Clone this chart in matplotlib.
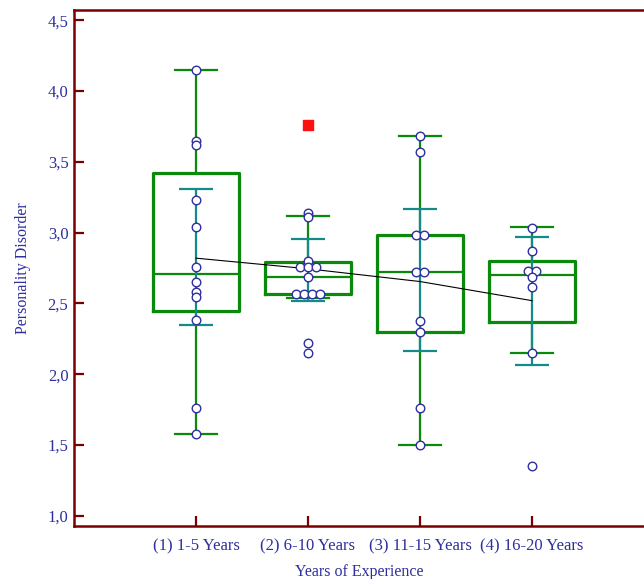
import matplotlib.pyplot as plt
import numpy as np

# groups on the x axis
groups = ["(1) 1-5 Years", "(2) 6-10 Years", "(3) 11-15 Years", "(4) 16-20 Years"]

g1 = [4.15, 3.65, 3.62, 3.23, 3.04, 2.76, 2.65, 2.58, 2.545, 2.38, 1.76, 1.58]
g2 = [3.14, 3.11, 2.80, 2.76, 2.76, 2.76, 2.69, 2.57, 2.57, 2.57, 2.57, 2.22, 2.15]
g3 = [3.68, 3.57, 2.98, 2.98, 2.72, 2.72, 2.375, 2.30, 1.76, 1.50]
g4 = [3.03, 2.87, 2.73, 2.73, 2.69, 2.615, 2.15, 1.35]
points = [g1, g2, g3, g4]

# far-out value (red square) in group 2
far_out_group = [2]
far_out_vals = [3.76]

# box plot statistics
q1 = [2.45, 2.567, 2.30, 2.37]
med = [2.71, 2.69, 2.72, 2.70]
q3 = [3.42, 2.79, 2.98, 2.80]
whis_lo = [1.58, 2.54, 1.50, 2.15]
whis_hi = [4.15, 3.12, 3.68, 3.04]

# means and 95% confidence interval of the mean
means = [2.82, 2.745, 2.655, 2.52]
ci_lo = [2.35, 2.517, 2.165, 2.065]
ci_hi = [3.31, 2.955, 3.17, 2.97]

green = "#0a8a0a"
teal = "#158a8a"
navy = "#2e2e9e"
spine = "#7a0000"

fig = plt.figure(figsize=(6.44, 5.79), dpi=100)
ax = fig.add_axes([0.1149, 0.0915, 0.8851, 0.891])

pos = np.arange(1, len(groups) + 1)

stats = []
for i in range(len(groups)):
    stats.append(dict(med=med[i], q1=q1[i], q3=q3[i],
                      whislo=whis_lo[i], whishi=whis_hi[i], fliers=[]))

ax.bxp(stats, positions=pos, widths=0.76, capwidths=0.37, showfliers=False,
       boxprops=dict(color=green, linewidth=2.3),
       medianprops=dict(color=green, linewidth=1.6),
       whiskerprops=dict(color=green, linewidth=1.6),
       capprops=dict(color=green, linewidth=1.6), zorder=2)

# confidence interval of the mean
means_a = np.array(means)
yerr = [means_a - np.array(ci_lo), np.array(ci_hi) - means_a]
ax.errorbar(pos, means, yerr=yerr, fmt="none", ecolor=teal, elinewidth=1.6,
            capsize=12.5, capthick=1.6, zorder=3)

# line connecting the means
ax.plot(pos, means, color="black", linewidth=0.8, zorder=4)

# observations, identical values spread sideways
for i, vals in enumerate(points):
    xs = []
    ys = []
    uniq = sorted(set(vals), reverse=True)
    for v in uniq:
        n = vals.count(v)
        offs = (np.arange(n) - (n - 1) / 2) * 0.072
        for o in offs:
            xs.append(pos[i] + o)
            ys.append(v)
    ax.scatter(xs, ys, s=38, facecolor="white", edgecolor=navy,
               linewidth=1.0, zorder=5)

ax.scatter(far_out_group, far_out_vals, marker="s", s=45, color="#ff1010",
           zorder=5)

ax.set_xlim(-0.089, 5.0)
ax.set_ylim(0.929, 4.571)
ax.set_xticks(pos)
ax.set_xticklabels(groups)
yt = np.arange(1.0, 4.51, 0.5)
ax.set_yticks(yt)
ax.set_yticklabels([f"{t:.1f}".replace(".", ",") for t in yt])

font = "Liberation Serif"
for lab in ax.get_xticklabels() + ax.get_yticklabels():
    lab.set_family(font)
    lab.set_fontsize(12)
    lab.set_color(navy)

ax.tick_params(direction="in", length=7, width=1.6, color=spine)
ax.tick_params(axis="x", pad=9)
ax.tick_params(axis="y", pad=4)
for side in ["left", "bottom", "top"]:
    ax.spines[side].set_color(spine)
    ax.spines[side].set_linewidth(1.8)
ax.spines["right"].set_visible(False)

ax.set_ylabel("Personality Disorder", family=font, fontsize=11.5, color=navy,
              labelpad=12)
ax.set_xlabel("Years of Experience", family=font, fontsize=11.5, color=navy,
              labelpad=7)

fig.savefig("out.png", dpi=100)
